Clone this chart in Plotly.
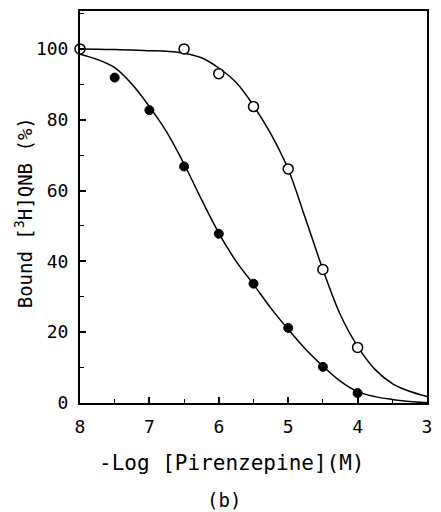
import plotly.graph_objects as go

# Data
open_x = [8, 6.5, 6, 5.5, 5, 4.5, 4]
open_y = [100, 100, 93, 83.7, 66.1, 37.7, 15.7]
filled_x = [7.5, 7, 6.5, 6, 5.5, 5, 4.5, 4]
filled_y = [91.9, 82.7, 66.8, 47.8, 33.7, 21.2, 10.2, 2.8]

# Fitted curves
curve_x = [8, 7.75, 7.5, 7.25, 7, 6.75, 6.5, 6.25, 6, 5.75, 5.5, 5.25, 5, 4.75, 4.5, 4.25, 4, 3.75, 3.5, 3.25, 3]
open_curve_y = [100, 99.9, 99.8, 99.7, 99.5, 99.3, 98.8, 97.5, 94.6, 90.5, 84, 76, 66, 52, 37.7, 25, 16, 9.5, 5.5, 3.3, 1.8]
filled_curve_y = [98.5, 97, 94.7, 90, 83.7, 76.5, 67.5, 57.5, 48, 40, 33.5, 26.8, 20.8, 15.2, 10.4, 6.2, 3.2, 1.8, 1.0, 0.4, 0.1]

x_tickvals = [8, 7, 6, 5, 4, 3]
y_tickvals = [0, 20, 40, 60, 80, 100]

x_title = "-Log [Pirenzepine](M)"
y_title = "Bound [<sup>3</sup>H]QNB (%)"
panel_label = "(b)"

font_family = "DejaVu Sans Mono"

# plot area in pixels: x 80..432, y 10..403
L, R, T, B = 80, 432, 10, 403
def px_x(p):
    return (p - L) / (R - L)
def px_y(p):
    return (B - p) / (B - T)

fig = go.Figure()
fig.add_trace(go.Scatter(x=curve_x, y=open_curve_y, mode="lines", line=dict(color="black", width=1.5, shape="spline"), showlegend=False, hoverinfo="skip"))
fig.add_trace(go.Scatter(x=curve_x, y=filled_curve_y, mode="lines", line=dict(color="black", width=1.5, shape="spline"), showlegend=False, hoverinfo="skip"))
fig.add_trace(go.Scatter(x=open_x, y=open_y, mode="markers", marker=dict(symbol="circle", size=10, color="white", line=dict(color="black", width=1.5)), showlegend=False, cliponaxis=False))
fig.add_trace(go.Scatter(x=filled_x, y=filled_y, mode="markers", marker=dict(symbol="circle", size=9, color="black", line=dict(color="black", width=1)), showlegend=False, cliponaxis=False))

fig.update_layout(
    width=441, height=512,
    margin=dict(l=L, r=441 - R, t=T, b=512 - B),
    paper_bgcolor="white", plot_bgcolor="white",
    font=dict(family=font_family, color="black", size=18),
    annotations=[
        dict(text=x_title, x=px_x(234), y=px_y(463), xref="paper", yref="paper",
             showarrow=False, xanchor="center", yanchor="middle",
             font=dict(size=21, family=font_family, color="black")),
        dict(text=panel_label, x=px_x(226), y=px_y(500), xref="paper", yref="paper",
             showarrow=False, xanchor="center", yanchor="middle",
             font=dict(size=19, family=font_family, color="black")),
        dict(text=y_title, x=px_x(24), y=px_y(212), xref="paper", yref="paper", textangle=-90,
             showarrow=False, xanchor="center", yanchor="middle",
             font=dict(size=19, family=font_family, color="black")),
    ],
)

fig.update_xaxes(
    range=[8, 3], tickvals=x_tickvals, ticktext=[str(v) for v in x_tickvals],
    showline=True, linecolor="black", linewidth=2, mirror=True,
    ticks="inside", ticklen=6, tickwidth=1.5, tickcolor="black",
    minor=dict(dtick=0.5, ticks="inside", ticklen=4, tickwidth=1, tickcolor="black"),
    showgrid=False, zeroline=False,
    tickfont=dict(size=18), ticklabelstandoff=6,
)
fig.update_yaxes(
    range=[0, 110.7], tickvals=y_tickvals, ticktext=[str(v) for v in y_tickvals],
    showline=True, linecolor="black", linewidth=2, mirror=True,
    ticks="inside", ticklen=6, tickwidth=1.5, tickcolor="black",
    minor=dict(dtick=10, ticks="inside", ticklen=4, tickwidth=1, tickcolor="black"),
    showgrid=False, zeroline=False,
    tickfont=dict(size=18), ticklabelstandoff=6,
)

fig.write_html("out.html")
